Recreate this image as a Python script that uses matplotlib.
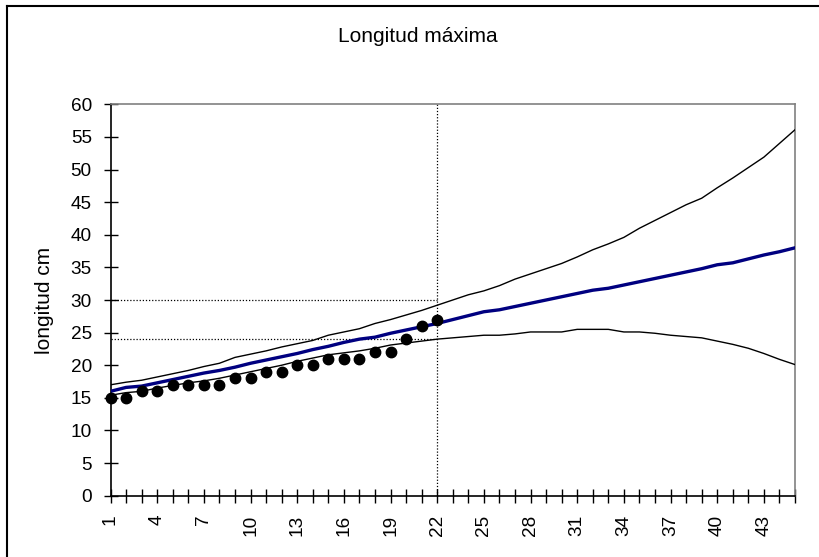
#!/usr/bin/env python3
"""Longitud máxima: observed lengths with fitted curve and upper/lower bands."""

import matplotlib
matplotlib.use("Agg")
import matplotlib.pyplot as plt
from matplotlib.lines import Line2D
import numpy as np

plt.rcParams["font.family"] = ["Liberation Sans", "DejaVu Sans"]

periods = np.arange(1, 46)

observed = [15, 15, 16, 16, 17, 17, 17, 17, 18, 18, 19, 19, 20, 20, 21, 21,
            21, 22, 22, 24, 26, 27]

fitted = [16.0, 16.6, 16.8, 17.3, 17.8, 18.3, 18.8, 19.2, 19.7, 20.3, 20.8,
          21.3, 21.8, 22.4, 22.9, 23.5, 24.0, 24.3, 24.9, 25.4, 25.9, 26.4,
          27.0, 27.6, 28.2, 28.5, 29.0, 29.5, 30.0, 30.5, 31.0, 31.5, 31.8,
          32.3, 32.8, 33.3, 33.8, 34.3, 34.8, 35.4, 35.7, 36.3, 36.9, 37.4,
          38.0]

upper = [17.0, 17.4, 17.7, 18.2, 18.7, 19.2, 19.8, 20.3, 21.2, 21.7, 22.2,
         22.8, 23.3, 23.8, 24.6, 25.1, 25.6, 26.4, 27.0, 27.7, 28.4, 29.2,
         30.0, 30.8, 31.4, 32.2, 33.2, 34.0, 34.8, 35.6, 36.6, 37.7, 38.6,
         39.6, 41.0, 42.2, 43.4, 44.6, 45.6, 47.2, 48.7, 50.3, 51.9, 54.0,
         56.1]

lower = [15.4, 15.8, 16.0, 16.5, 16.9, 17.3, 17.6, 18.0, 18.5, 19.0, 19.5,
         20.0, 20.6, 21.1, 21.6, 21.9, 22.2, 22.6, 23.1, 23.4, 23.7, 24.0,
         24.2, 24.4, 24.6, 24.6, 24.8, 25.1, 25.1, 25.1, 25.5, 25.5, 25.5,
         25.1, 25.1, 24.9, 24.6, 24.4, 24.2, 23.7, 23.2, 22.6, 21.8, 20.9,
         20.1]

ref_x = 22
ref_levels = [30, 24]

W, H = 819, 557
fig = plt.figure(figsize=(W / 100, H / 100), dpi=100)
ax = fig.add_axes([110.5 / W, 1 - 495.7 / H, (795 - 110.5) / W, (495.7 - 104.3) / H])

ax.plot(periods, upper, color="black", linewidth=1.0, zorder=3)
ax.plot(periods, lower, color="black", linewidth=1.0, zorder=3)
ax.plot(periods, fitted, color="#000080", linewidth=2.4, zorder=4)
ax.plot(periods[:len(observed)], observed, "o", color="black", markersize=7.5,
        linestyle="none", zorder=5, clip_on=False)

ax.axvline(ref_x, color="black", linestyle=(0, (1, 1.5)), linewidth=0.9, zorder=2)
for lvl in ref_levels:
    ax.plot([1, ref_x], [lvl, lvl], color="black", linestyle=(0, (1, 1.5)),
            linewidth=0.9, zorder=2)

ax.set_xlim(1, 45)
ax.set_ylim(0, 60)
ax.set_yticks(np.arange(0, 61, 5))
ax.set_xticks(periods)
ax.set_xticklabels([str(p) if (p - 1) % 3 == 0 else "" for p in periods],
                   rotation=90)

ax.tick_params(axis="both", direction="inout", length=10, width=1.0,
               labelsize=13.7, color="black")
ax.tick_params(axis="y", pad=8.5)
ax.tick_params(axis="x", pad=8.5)

for side in ("left", "bottom"):
    ax.spines[side].set_color("black")
    ax.spines[side].set_linewidth(1.2)
for side in ("top", "right"):
    ax.spines[side].set_color("#808080")
    ax.spines[side].set_linewidth(1.2)

fig.text(418 / W, 1 - 36 / H, "Longitud máxima", ha="center", va="center",
         fontsize=15)
fig.text(45 / W, 1 - 300 / H, "longitud cm", ha="center", va="center",
         rotation=90, fontsize=15)

# outer chart border (only left and top edges fall inside the image)
fig.add_artist(Line2D([7 / W, 7 / W], [0, 1 - 6 / H], transform=fig.transFigure,
                      color="black", linewidth=1.5))
fig.add_artist(Line2D([7 / W, 1], [1 - 6 / H, 1 - 6 / H], transform=fig.transFigure,
                      color="black", linewidth=1.5))

fig.savefig("out.png", dpi=100)
